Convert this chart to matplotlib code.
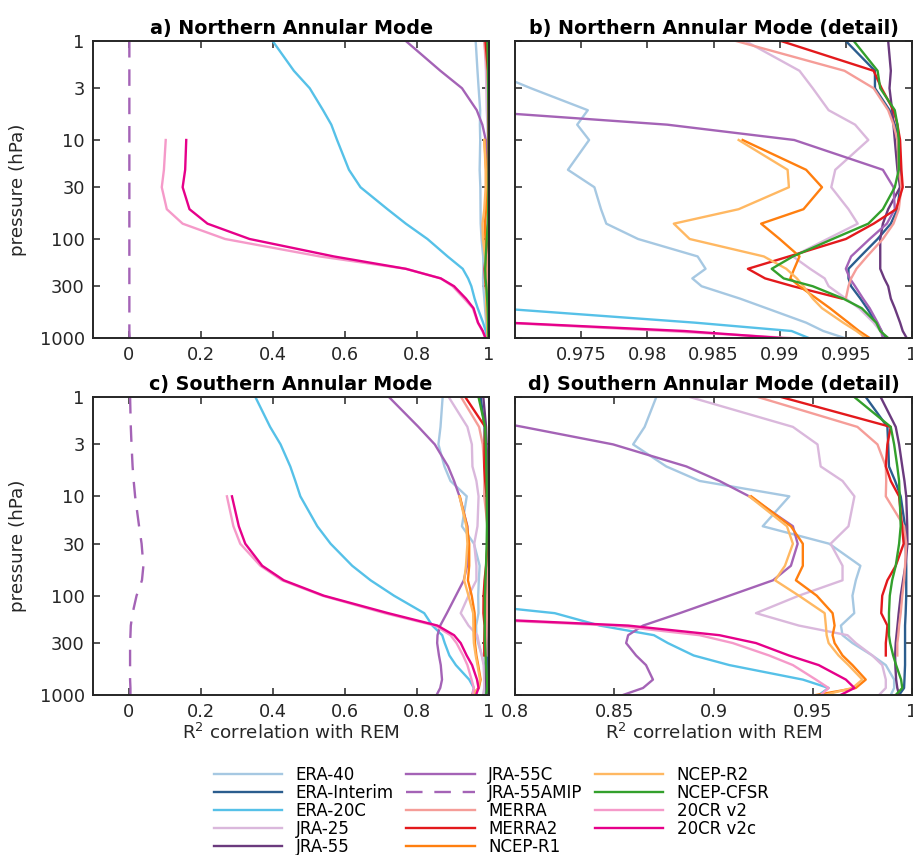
import numpy as np
import matplotlib
matplotlib.use('Agg')
import matplotlib.pyplot as plt
from matplotlib.ticker import FixedLocator, FixedFormatter, NullLocator

# ---------------- data ----------------
levels = [1, 2, 3, 5, 7, 10, 20, 30, 50, 70, 100, 150, 200, 250, 300, 400, 500, 700, 850, 1000]

names = ['ERA-40', 'ERA-Interim', 'ERA-20C', 'JRA-25', 'JRA-55', 'JRA-55C', 'JRA-55AMIP',
         'MERRA', 'MERRA2', 'NCEP-R1', 'NCEP-R2', 'NCEP-CFSR', '20CR v2', '20CR v2c']
colors = ['#a6c8e2', '#2b5d8e', '#56c1e8', '#dab8dc', '#6b3a7e', '#a463b6', '#a463b6',
          '#f59d98', '#e3191c', '#ff7f0f', '#ffb862', '#33a02c', '#f59ac9', '#e6008a']
styles = ['-', '-', '-', '-', '-', '-', '--', '-', '-', '-', '-', '-', '-', '-']
N = None

# Northern Annular Mode, R^2 by pressure level
era40_nam = [0.963, 0.968, 0.9712, 0.9755, 0.9747, 0.9756, 0.9740, 0.9760, 0.9765, 0.9769,
             0.9793, 0.9838, 0.9844, 0.9834, 0.9841, 0.9870, 0.9890, 0.9920, 0.9933, 0.9949]
erai_nam = [0.9950, 0.9972, 0.9972, 0.9983, 0.9987, 0.9990, 0.9991, 0.9991, 0.9989, 0.9984,
            0.9974, 0.9961, 0.9952, 0.9952, 0.9954, 0.9961, 0.9966, 0.9973, 0.9977, 0.9979]
era20c_nam = [0.399, 0.458, 0.502, 0.539, 0.562, 0.578, 0.611, 0.643, 0.718, 0.769,
              0.829, 0.885, 0.927, 0.942, 0.951, 0.960, 0.9686, 0.9836, 0.9909, 0.9922]
jra25_nam = [0.9874, 0.9915, 0.9925, 0.9937, 0.9957, 0.9967, 0.9942, 0.9939, 0.9952, 0.9959,
             0.9936, 0.9910, 0.9923, 0.9934, 0.9937, 0.9950, 0.9960, 0.9971, 0.9976, 0.9978]
jra55_nam = [0.9982, 0.9984, 0.9983, 0.9985, 0.9986, 0.9987, 0.9989, 0.9991, 0.9982, 0.9978,
             0.9976, 0.9976, 0.9976, 0.9979, 0.9982, 0.9984, 0.9987, 0.9991, 0.9993, 0.9996]
jra55c_nam = [0.769, 0.865, 0.925, 0.966, 0.9815, 0.9911, 0.9978, 0.9986, 0.9987, 0.9981,
              0.9968, 0.9954, 0.9950, 0.9953, 0.9957, 0.9963, 0.9968, 0.9974, 0.9977, 0.9978]
jra55amip_nam = [0.001, 0.001, 0.001, 0.001, 0.001, 0.001, 0.001, 0.001, 0.001, 0.001,
                 0.001, 0.001, 0.001, 0.001, 0.001, 0.001, 0.001, 0.001, 0.001, 0.002]
merra_nam = [0.9867, 0.9949, 0.9971, 0.9982, 0.9986, 0.9989, 0.9990, 0.9992, 0.9990, 0.9986,
             0.9978, 0.9966, 0.9958, 0.9954, 0.9952, 0.9950, N, N, N, N]
merra2_nam = [0.9901, 0.9971, 0.9977, 0.9986, 0.9989, 0.9991, 0.9992, 0.9993, 0.9988, 0.9971,
              0.9950, 0.9907, 0.9876, 0.9889, 0.9910, 0.9947, N, N, N, N]
ncepr1_nam = [N, N, N, N, N, 0.9872, 0.9920, 0.9932, 0.9918, 0.9886,
              0.9900, 0.9915, 0.9911, 0.9908, 0.9915, 0.9928, 0.9938, 0.9952, 0.9960, 0.9968]
ncepr2_nam = [N, N, N, N, N, 0.9869, 0.9906, 0.9907, 0.9869, 0.9820,
              0.9832, 0.9888, 0.9905, 0.9913, 0.9918, 0.9925, 0.9932, 0.9948, 0.9958, 0.9965]
cfsr_nam = [0.9956, 0.9974, 0.9976, 0.9987, 0.9989, 0.9990, 0.9990, 0.9987, 0.9978, 0.9967,
            0.9940, 0.9910, 0.9894, 0.9903, 0.9925, 0.9948, 0.9962, 0.9973, 0.9976, 0.9982]
cr20v2_nam = [N, N, N, N, N, 0.102, 0.097, 0.091, 0.105, 0.149,
              0.267, 0.530, 0.769, 0.866, 0.899, 0.931, 0.955, 0.969, 0.9815, 0.9908]
cr20v2c_nam = [N, N, N, N, N, 0.159, 0.156, 0.149, 0.168, 0.218,
               0.335, 0.569, 0.769, 0.866, 0.903, 0.936, 0.957, 0.9695, 0.9828, 0.9901]

# Southern Annular Mode, R^2 by pressure level
era40_sam = [0.8712, 0.8653, 0.8595, 0.8762, 0.893, 0.9382, 0.9248, 0.9583, 0.974, 0.9717,
             0.970, 0.9709, 0.9642, 0.965, 0.970, 0.980, 0.9868, 0.991, 0.991, 0.9893]
erai_sam = [0.9767, 0.9876, 0.9880, 0.9884, 0.9915, 0.9943, 0.9965, 0.9968, 0.9971, 0.9971,
            0.9971, 0.9968, 0.9965, 0.9965, 0.9965, 0.9965, 0.9965, 0.9962, 0.9960, 0.9935]
era20c_sam = [0.351, 0.392, 0.421, 0.448, 0.462, 0.476, 0.523, 0.560, 0.620, 0.671,
              0.736, 0.820, 0.8427, 0.870, 0.877, 0.890, 0.908, 0.945, 0.958, 0.953]
jra25_sam = [0.888, 0.940, 0.9524, 0.954, 0.965, 0.971, 0.968, 0.959, 0.965, 0.965,
             0.943, 0.9214, 0.943, 0.9675, 0.9717, 0.980, 0.985, 0.9868, 0.9868, 0.9834]
jra55_sam = [0.9842, 0.9918, 0.9935, 0.9951, 0.9962, 0.9971, 0.9976, 0.9977, 0.9967, 0.9955,
             0.9943, 0.9933, 0.9927, 0.9922, 0.9918, 0.9915, 0.9916, 0.9920, 0.9926, 0.9935]
jra55c_sam = [0.722, 0.804, 0.8494, 0.8863, 0.903, 0.918, 0.940, 0.9424, 0.939, 0.930,
              0.908, 0.883, 0.8645, 0.857, 0.856, 0.861, 0.866, 0.8695, 0.8645, 0.8544]
jra55amip_sam = [0.003, 0.005, 0.007, 0.010, 0.013, 0.017, 0.028, 0.035, 0.040, 0.036,
                 0.021, 0.010, 0.005, 0.004, 0.003, 0.003, 0.003, 0.003, 0.004, 0.004]
merra_sam = [0.9223, 0.9725, 0.9826, 0.9868, 0.9870, 0.9868, 0.9960, 0.9971, 0.9965, 0.9960,
             0.9951, 0.9943, 0.9935, 0.9931, 0.9926, 0.9926, N, N, N, N]
merra2_sam = [0.934, 0.9893, 0.9876, 0.9868, 0.9893, 0.9935, 0.9950, 0.9958, 0.9918, 0.9876,
              0.9850, 0.9845, 0.9876, 0.9872, 0.9868, 0.9868, N, N, N, N]
ncepr1_sam = [N, N, N, N, N, 0.919, 0.939, 0.945, 0.945, 0.9415,
              0.952, 0.960, 0.961, 0.960, 0.961, 0.965, 0.970, 0.9767, 0.9717, 0.9516]
ncepr2_sam = [N, N, N, N, N, 0.918, 0.937, 0.940, 0.936, 0.931,
              0.943, 0.956, 0.9566, 0.957, 0.958, 0.963, 0.968, 0.975, 0.970, 0.9558]
cfsr_sam = [0.9709, 0.9893, 0.9910, 0.9926, 0.9935, 0.9938, 0.9943, 0.9935, 0.9918, 0.9900,
            0.9888, 0.9884, 0.9884, 0.9884, 0.9890, 0.9905, 0.9920, 0.9945, 0.9951, 0.9918]
cr20v2_sam = [N, N, N, N, N, 0.272, 0.290, 0.309, 0.365, 0.425,
              0.537, 0.710, 0.850, 0.893, 0.9097, 0.928, 0.940, 0.9516, 0.958, 0.954]
cr20v2c_sam = [N, N, N, N, N, 0.286, 0.305, 0.323, 0.370, 0.430,
               0.541, 0.720, 0.857, 0.903, 0.9214, 0.938, 0.953, 0.9667, 0.971, 0.964]

nam_series = [era40_nam, erai_nam, era20c_nam, jra25_nam, jra55_nam, jra55c_nam, jra55amip_nam,
              merra_nam, merra2_nam, ncepr1_nam, ncepr2_nam, cfsr_nam, cr20v2_nam, cr20v2c_nam]
sam_series = [era40_sam, erai_sam, era20c_sam, jra25_sam, jra55_sam, jra55c_sam, jra55amip_sam,
              merra_sam, merra2_sam, ncepr1_sam, ncepr2_sam, cfsr_sam, cr20v2_sam, cr20v2c_sam]

ytick_vals = [1, 3, 10, 30, 100, 300, 1000]
ytick_labels = ['1', '3', '10', '30', '100', '300', '1000']
xticks_full = [0, 0.2, 0.4, 0.6, 0.8, 1]
xticks_nam_detail = [0.975, 0.98, 0.985, 0.99, 0.995, 1]
xticks_sam_detail = [0.8, 0.85, 0.9, 0.95, 1]

titles = ['a) Northern Annular Mode', 'b) Northern Annular Mode (detail)',
          'c) Southern Annular Mode', 'd) Southern Annular Mode (detail)']

# ---------------- figure ----------------
plt.rcParams['font.family'] = ['DejaVu Sans']
W, H = 913, 855
fig = plt.figure(figsize=(W / 100, H / 100), dpi=100)

def frac(l, t, r, b):
    return [l / W, 1 - b / H, (r - l) / W, (b - t) / H]

ax_a = fig.add_axes(frac(93, 41, 489, 338))
ax_b = fig.add_axes(frac(515, 41, 912, 338))
ax_c = fig.add_axes(frac(93, 397, 489, 695))
ax_d = fig.add_axes(frac(515, 397, 912, 695))

ink = '#262626'
specs = [
    (ax_a, nam_series, (-0.1, 1.0), xticks_full, True, False),
    (ax_b, nam_series, (0.97, 1.0), xticks_nam_detail, False, False),
    (ax_c, sam_series, (-0.1, 1.0), xticks_full, True, True),
    (ax_d, sam_series, (0.8, 1.0), xticks_sam_detail, False, True),
]

p = np.array(levels, dtype=float)
for k, (ax, series, xlim, xt, left, bottom) in enumerate(specs):
    for vals, c, ls, nm in zip(series, colors, styles, names):
        v = np.array(vals, dtype=float)
        if ls == '--':
            ax.plot(v, p, color=c, lw=1.7, ls=(0, (7, 5)), label=nm)
        else:
            ax.plot(v, p, color=c, lw=1.7, ls=ls, label=nm)
    ax.set_yscale('log')
    ax.set_ylim(1000, 1)
    ax.set_xlim(*xlim)
    ax.yaxis.set_major_locator(FixedLocator(ytick_vals))
    ax.yaxis.set_major_formatter(FixedFormatter(ytick_labels))
    ax.yaxis.set_minor_locator(NullLocator())
    ax.xaxis.set_major_locator(FixedLocator(xt))
    ax.xaxis.set_major_formatter(FixedFormatter(['%g' % t for t in xt]))
    ax.xaxis.set_minor_locator(NullLocator())
    ax.tick_params(direction='in', top=True, right=True, length=5, width=1.1,
                   labelsize=12.8, color=ink, labelcolor=ink, pad=6)
    for s in ax.spines.values():
        s.set_linewidth(1.4)
        s.set_color(ink)
    if left:
        ax.set_ylabel('pressure (hPa)', fontsize=13.2, color=ink, labelpad=9)
    else:
        ax.tick_params(labelleft=False)
    if bottom:
        ax.set_xlabel('R$^2$ correlation with REM', fontsize=13.2, color=ink, labelpad=1)
    ax.set_title(titles[k], fontsize=13.8, fontweight='bold', pad=5)

handles, labels = ax_a.get_legend_handles_labels()
fig.legend(handles, labels, ncol=3, loc='upper left', bbox_to_anchor=(214 / W, 1 - 765.5 / H),
           frameon=False, fontsize=12, handlelength=4.1, handletextpad=0.8,
           columnspacing=0.75, labelspacing=0.0, borderpad=0, borderaxespad=0)

fig.savefig('out.png', dpi=100)
